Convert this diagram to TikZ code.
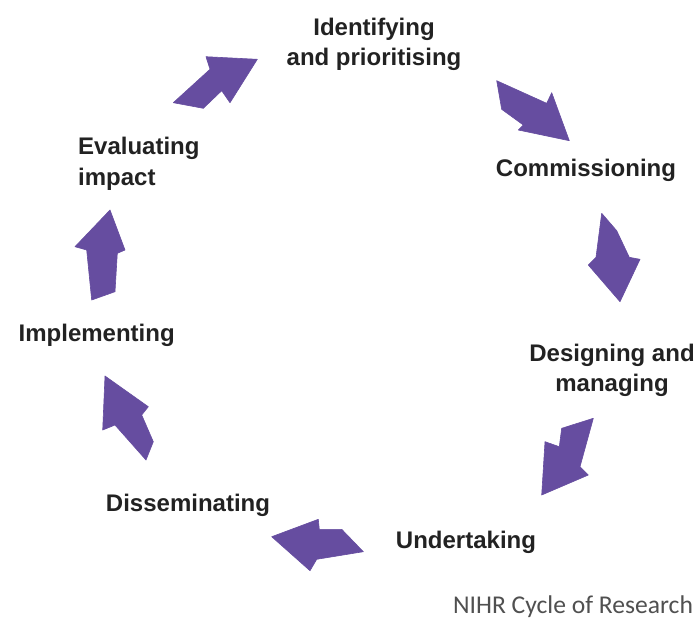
\documentclass[tikz,border=0pt]{standalone}
\usepackage{fontspec}
\setmainfont{Liberation Sans}
\newfontfamily\notefont{Carlito}
\definecolor{cyclepurple}{RGB}{102,77,160}
\definecolor{labelgrey}{RGB}{34,34,34}
\definecolor{notegrey}{RGB}{80,80,80}
\begin{document}
\begin{tikzpicture}[x=1pt,y=-1pt,
  stage/.style={font=\bfseries\fontsize{24}{30.5}\selectfont, text=labelgrey, inner sep=0pt},
  blockarrow/.style={fill=cyclepurple, draw=cyclepurple, line width=0.6pt, line join=round},
]
\useasboundingbox[fill=white] (0,0) rectangle (699,619);

% stages of the cycle
\node[stage, align=center] (identify) at (374,44.5) {Identifying\\and prioritising};
\node[stage, anchor=base] (commission) at (586,176.7) {Commissioning};
\node[stage, align=center] (design) at (612,370.5) {Designing and\\managing};
\node[stage, anchor=base] (undertake) at (466,548) {Undertaking};
\node[stage, anchor=base] (disseminate) at (188,511) {Disseminating};
\node[stage, anchor=base] (implement) at (96.7,341.7) {Implementing};
\node[stage, align=left, anchor=west] (evaluate) at (78,164) {Evaluating\\impact};

% caption
\node[font=\notefont\fontsize{25.6}{30}\selectfont, text=notegrey, inner sep=0pt, anchor=base] (caption) at (573,613) {NIHR Cycle of Research};

% block arrows between the stages
\filldraw[blockarrow] (173.3,102.7) -- (210,69.3) -- (206,56.7) -- (257.3,59.3) -- (230,102.7) -- (221.7,90.7) -- (203.3,108.3) -- cycle;
\filldraw[blockarrow] (496.7,80.7) -- (546.7,103.3) -- (551.7,92.7) -- (569.3,140.7) -- (518.3,130) -- (523.3,125) -- (501.7,109.3) -- cycle;
\filldraw[blockarrow] (601.7,213.3) -- (616.7,230.7) -- (629.3,257.3) -- (640,259.3) -- (620,301.7) -- (588.3,265) -- (596,257.3) -- cycle;
\filldraw[blockarrow] (593.3,418.3) -- (561.7,428.3) -- (559.3,446.7) -- (545,441.7) -- (541.7,495) -- (588.3,475) -- (580,466.7) -- cycle;
\filldraw[blockarrow] (271.7,536.7) -- (318.3,519.3) -- (319.3,529.3) -- (341.7,529.3) -- (363.3,551.7) -- (316.7,559.3) -- (310,570.7) -- cycle;
\filldraw[blockarrow] (105,376) -- (148.3,406.7) -- (141.7,415) -- (153.3,441.7) -- (146,460) -- (115,425) -- (102.7,430) -- cycle;
\filldraw[blockarrow] (110,210) -- (125,250) -- (117.3,253.3) -- (115,291.7) -- (91.7,300) -- (86.7,250) -- (75,246.7) -- cycle;
\end{tikzpicture}
\end{document}
